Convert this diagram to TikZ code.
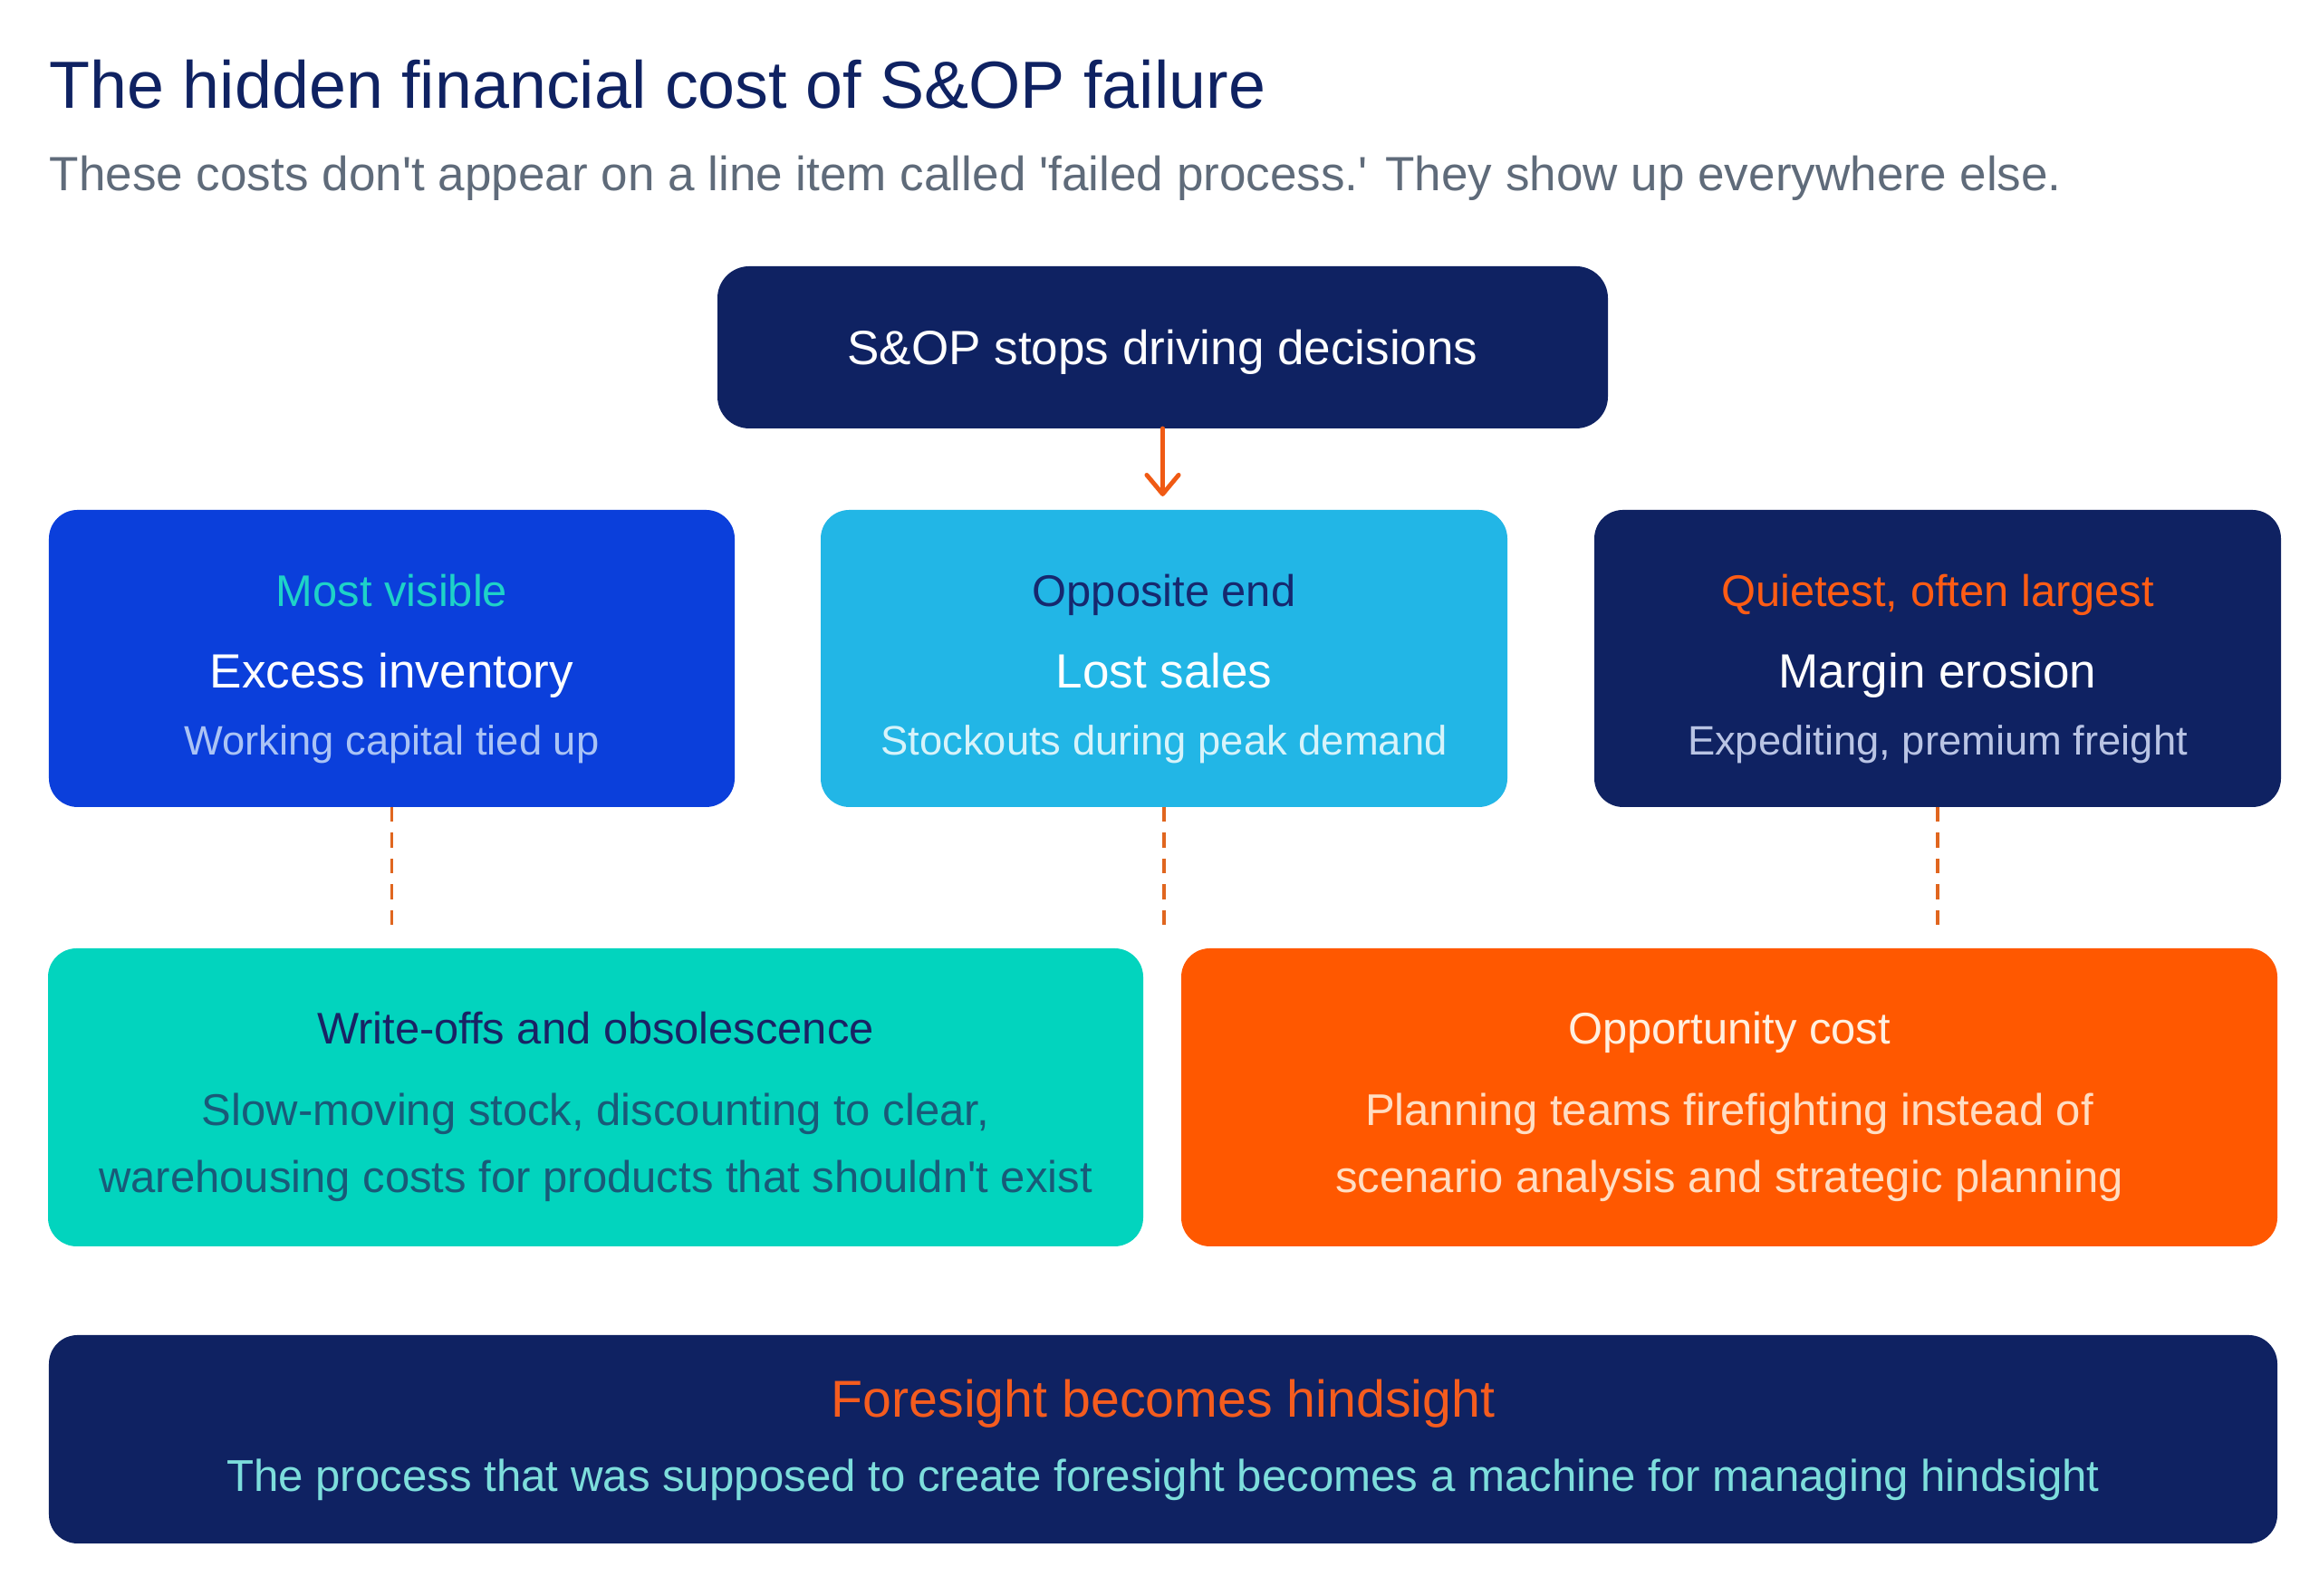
\documentclass[tikz,border=0pt]{standalone}
\usepackage{fontspec}
\setmainfont[Ligatures=TeXOff]{Liberation Sans}
\usepackage{tikz}
\usetikzlibrary{positioning,arrows.meta}

\definecolor{navy}{RGB}{15,34,98}
\definecolor{subgray}{RGB}{95,107,122}
\definecolor{royal}{RGB}{11,63,219}
\definecolor{sky}{RGB}{34,182,230}
\definecolor{teal}{RGB}{2,212,190}
\definecolor{flame}{RGB}{255,88,0}
\definecolor{tealtxt}{RGB}{30,210,200}
\definecolor{flametxt}{RGB}{255,92,20}
\definecolor{oppotxt}{RGB}{22,40,110}
\definecolor{royaltxt}{RGB}{170,195,245}
\definecolor{skytxt}{RGB}{215,243,250}
\definecolor{navytxt}{RGB}{185,196,228}
\definecolor{writetxt}{RGB}{25,35,100}
\definecolor{slowtxt}{RGB}{25,90,120}
\definecolor{opptxt}{RGB}{255,240,225}
\definecolor{plantxt}{RGB}{255,222,195}
\definecolor{foretxt}{RGB}{245,92,30}
\definecolor{machtxt}{RGB}{125,222,220}
\definecolor{arrowc}{RGB}{240,90,20}
\definecolor{dashc}{RGB}{224,102,31}

\begin{document}
\begin{tikzpicture}[
    box/.style={draw=none, rounded corners=9pt, inner sep=0, outer sep=0},
    txt/.style={anchor=base, inner sep=0},
    small/.style={txt, font=\fontsize{12.9}{15}\selectfont},
    label/.style={txt, font=\fontsize{13.9}{16}\selectfont},
    head/.style={txt, font=\fontsize{15.1}{18}\selectfont},
    body/.style={txt, font=\fontsize{13.95}{16}\selectfont},
    link/.style={draw=dashc, line width=1.1pt, dash pattern=on 4.6pt off 3.5pt}
]
    \useasboundingbox (0,0) rectangle (25.6,17.62);

    % title
    \node[txt, anchor=base west, text=navy, font=\fontsize{20.95}{24}\selectfont] (title) at (0.54,16.42) {The hidden financial cost of S\&OP failure};
    \node[txt, anchor=base west, text=subgray, font=\fontsize{15.1}{18}\selectfont] (subtitle) at (0.54,15.51) {These costs don't appear on a line item called 'failed process.' They show up everywhere else.};

    % boxes
    \node[box, fill=navy, minimum width=9.83cm, minimum height=1.79cm, rounded corners=10pt] (top) at (12.835,13.785) {};
    \node[box, fill=royal, minimum width=7.57cm, minimum height=3.28cm] (inv) at (4.325,10.35) {};
    \node[box, fill=sky, minimum width=7.58cm, minimum height=3.28cm] (lost) at (12.85,10.35) {};
    \node[box, fill=navy, minimum width=7.58cm, minimum height=3.28cm] (margin) at (21.39,10.35) {};
    \node[box, fill=teal, minimum width=12.09cm, minimum height=3.29cm] (write) at (6.575,5.505) {};
    \node[box, fill=flame, minimum width=12.10cm, minimum height=3.29cm] (opp) at (19.09,5.505) {};
    \node[box, fill=navy, minimum width=24.6cm, minimum height=2.30cm] (fore) at (12.84,1.73) {};

    % texts
    \node[head, text=white] (topt) at (12.835,13.59) {S\&OP stops driving decisions};

    \node[label, text=tealtxt] (invl) at (4.325,10.92) {Most visible};
    \node[head, text=white] (invh) at (4.325,10.02) {Excess inventory};
    \node[small, text=royaltxt] (invs) at (4.325,9.28) {Working capital tied up};

    \node[label, text=oppotxt] (lostl) at (12.85,10.92) {Opposite end};
    \node[head, text=white] (losth) at (12.85,10.02) {Lost sales};
    \node[small, text=skytxt] (losts) at (12.85,9.28) {Stockouts during peak demand};

    \node[label, text=flametxt] (marginl) at (21.39,10.92) {Quietest, often largest};
    \node[head, text=white] (marginh) at (21.39,10.02) {Margin erosion};
    \node[small, text=navytxt] (margins) at (21.39,9.28) {Expediting, premium freight};

    \node[label, text=writetxt] (writeh) at (6.575,6.09) {Write-offs and obsolescence};
    \node[body, text=slowtxt] (writea) at (6.575,5.19) {Slow-moving stock, discounting to clear,};
    \node[body, text=slowtxt] (writeb) at (6.575,4.45) {warehousing costs for products that shouldn't exist};

    \node[label, text=opptxt] (opph) at (19.09,6.09) {Opportunity cost};
    \node[body, text=plantxt] (oppa) at (19.09,5.19) {Planning teams firefighting instead of};
    \node[body, text=plantxt] (oppb) at (19.09,4.45) {scenario analysis and strategic planning};

    \node[txt, text=foretxt, font=\fontsize{16.3}{19}\selectfont] (foreh) at (12.84,1.97) {Foresight becomes hindsight};
    \node[txt, text=machtxt, font=\fontsize{14}{16}\selectfont] (fores) at (12.84,1.15) {The process that was supposed to create foresight becomes a machine for managing hindsight};

    % connectors
    \draw[draw=arrowc, line width=1.4pt, line cap=round, shorten >=0.15cm,
        -{Straight Barb[length=6pt, width=10pt, line cap=round, line join=round]}]
        (top.south) -- (top.south |- lost.north);

    \coordinate (invend) at ([yshift=-1.31cm]inv.south);
    \coordinate (lostend) at ([yshift=-1.31cm]lost.south);
    \coordinate (marginend) at ([yshift=-1.31cm]margin.south);
    \path[link] (inv.south) -- (invend);
    \path[link] (lost.south) -- (lostend);
    \path[link] (margin.south) -- (marginend);

\end{tikzpicture}
\end{document}
